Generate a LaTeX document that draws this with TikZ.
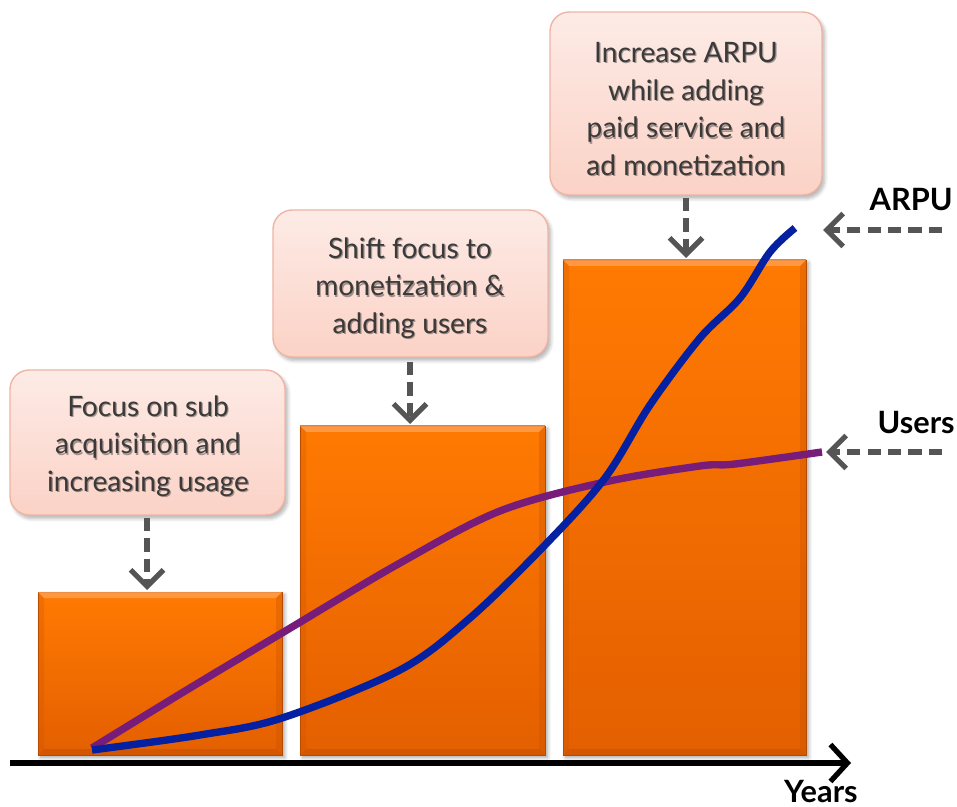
\documentclass[tikz,border=0pt]{standalone}
\usepackage{fontspec}
\setmainfont{Lato}
\usetikzlibrary{arrows.meta,shadows.blur}

\definecolor{barTop}{HTML}{FF7A02}
\definecolor{barBot}{HTML}{E45F00}
\definecolor{bevelHi}{HTML}{FFA052}
\definecolor{bevelLo}{HTML}{C85200}
\definecolor{boxTop}{HTML}{FDEBE6}
\definecolor{boxBot}{HTML}{FBD2C6}
\definecolor{boxEdge}{HTML}{F0B4A4}
\definecolor{noteText}{HTML}{3A3A3A}
\definecolor{pointer}{HTML}{555555}
\definecolor{usersCol}{HTML}{781C7A}
\definecolor{arpuCol}{HTML}{0520A0}

\tikzset{
  bar/.style={top color=barTop, bottom color=barBot, draw=bevelLo!90!black, line width=0.4pt,
              blur shadow={shadow xshift=1.5pt, shadow yshift=-1.5pt, shadow blur steps=6, shadow opacity=35}},
  note/.style={rounded corners=11pt, top color=boxTop, bottom color=boxBot, draw=boxEdge, line width=0.8pt,
               blur shadow={shadow xshift=1.5pt, shadow yshift=-2pt, shadow blur steps=6, shadow opacity=30}},
  notetext/.style={align=center, text=noteText, font=\fontsize{16}{21.5}\selectfont, inner sep=0pt},
  notehalo/.style={notetext, text=black, text opacity=0.35},
  series/.style={line width=4.2pt, line cap=butt, line join=round},
  dasharrow/.style={draw=pointer, line width=3pt, dash pattern=on 7.6pt off 4pt,
                    -{Straight Barb[length=3.3mm, width=6.6mm, line width=3pt]}},
  seriesname/.style={font=\fontsize{17.5}{20}\selectfont\bfseries, text=black, inner sep=0pt},
}

% a bar with a bevelled rim: #1,#2 top-left corner, #3,#4 bottom-right corner
\newcommand\bevelbar[4]{%
  \path[bar] (#1,#2) rectangle (#3,#4);
  \fill[bevelHi, opacity=0.8] (#1,#2) -- (#3,#2) -- ({#3-6},{#2+6}) -- ({#1+6},{#2+6}) -- cycle;
  \fill[bevelLo, opacity=0.6] (#1,#4) -- (#3,#4) -- ({#3-6},{#4-6}) -- ({#1+6},{#4-6}) -- cycle;
  \fill[bevelLo, opacity=0.25] (#1,#2) -- ({#1+6},{#2+6}) -- ({#1+6},{#4-6}) -- (#1,#4) -- cycle;
  \fill[bevelLo, opacity=0.35] (#3,#2) -- ({#3-6},{#2+6}) -- ({#3-6},{#4-6}) -- (#3,#4) -- cycle;
}

\begin{document}
\begin{tikzpicture}[x=0.02cm, y=-0.02cm]
  \useasboundingbox (0,0) rectangle (957,807);

  % yearly bars
  \bevelbar{38}{592}{282}{755}
  \bevelbar{300}{426}{545}{755}
  \bevelbar{563}{260}{806}{755}
  \coordinate (bar1) at (147,590);
  \coordinate (bar2) at (410,424);
  \coordinate (bar3) at (686,258);

  % time axis
  \coordinate (axisStart) at (10,763);
  \coordinate (axisEnd) at (851,763);
  \draw[line width=3pt, -{Straight Barb[length=3.4mm, width=7.4mm, line width=3pt]}] (axisStart) -- (axisEnd);
  \node[seriesname, anchor=base east] (years) at (858,802) {Years};

  % users curve
  \draw[series, draw=usersCol] plot[smooth, tension=0.55] coordinates {
    (92,748) (190,688) (282,633) (400,563) (500,511) (605,482) (700,466) (735,464) (822,452)};
  % ARPU curve
  \draw[series, draw=arpuCol] plot[smooth, tension=0.55] coordinates {
    (92,750) (200,735) (282,718) (400,670) (470,618) (545,545) (605,478) (650,405) (700,338) (740,298) (770,252) (795,228)};
  \coordinate (usersEnd) at (826,452);
  \coordinate (arpuEnd) at (823,230);

  % explanatory notes
  \path[note] (10,370) rectangle (285,515);
  \node[notehalo] at (149.2,447.3) {Focus on sub\\acquisition and\\increasing usage};
  \node[notetext] (note1) at (148,446) {Focus on sub\\acquisition and\\increasing usage};
  \path[note] (273,210) rectangle (548,357);
  \node[notehalo] at (411.2,289.3) {Shift focus to\\monetization \&\\adding users};
  \node[notetext] (note2) at (410,288) {Shift focus to\\monetization \&\\adding users};
  \path[note] (550,12) rectangle (822,195);
  \node[notehalo] at (687.2,110.3) {Increase ARPU\\while adding\\paid service and\\ad monetization};
  \node[notetext] (note3) at (686,109) {Increase ARPU\\while adding\\paid service and\\ad monetization};
  \coordinate (note1b) at (147,518);
  \coordinate (note2b) at (410,362);
  \coordinate (note3b) at (686,198);

  \draw[dasharrow] (note1b) -- (bar1);
  \draw[dasharrow] (note2b) -- (bar2);
  \draw[dasharrow] (note3b) -- (bar3);

  % series labels
  \node[seriesname, anchor=east] (arpuLbl) at (953,200) {ARPU};
  \node[seriesname, anchor=east] (usersLbl) at (955,423) {Users};
  \coordinate (arpuTail) at (942,230);
  \coordinate (usersTail) at (942,452);
  \draw[dasharrow] (arpuTail) -- (arpuEnd);
  \draw[dasharrow] (usersTail) -- (usersEnd);
\end{tikzpicture}
\end{document}
